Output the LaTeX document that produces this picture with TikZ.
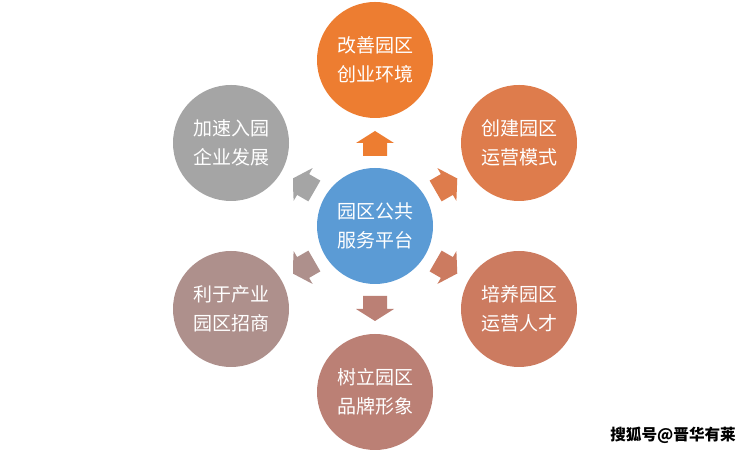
\documentclass[tikz,border=0pt]{standalone}
\usepackage{fontspec}
\setmainfont{Noto Sans CJK SC}
\newfontfamily\markfont[BoldFont={Noto Sans CJK SC Bold}]{Noto Sans CJK SC}
\tikzset{
  x=1pt,y=1pt,
  hub/.style={circle,minimum size=116pt,inner sep=0pt,text=white,align=center,font=\fontsize{19}{29}\selectfont},
  mark text/.style={text=black,inner sep=0pt,font=\fontsize{15.6}{16}\selectfont\bfseries}
}
\definecolor{cblue}{HTML}{5B9BD5}
\definecolor{cA}{HTML}{ED7D31}
\definecolor{cB}{HTML}{DE7C4C}
\definecolor{cC}{HTML}{CC7B60}
\definecolor{cD}{HTML}{BB8075}
\definecolor{cE}{HTML}{AE908C}
\definecolor{cF}{HTML}{A5A5A5}
\newcommand{\blockarr}[2]{%
  \begin{scope}
    \clip (293,0) rectangle (457.3,452);
    \begin{scope}[shift={(centre.center)},rotate=#1]
      \fill[#2] (70,-12) -- (83,-12) -- (83,-19) -- (95,0) -- (83,19) -- (83,12) -- (70,12) -- cycle;
    \end{scope}
  \end{scope}}
\begin{document}
\begin{tikzpicture}
\useasboundingbox (0,0) rectangle (750,452);
\fill[white] (0,0) rectangle (750,452);
\node[hub,fill=cblue] (centre) at (375,226) {园区公共\\服务平台};
\node[hub,fill=cA] (top) at (375,392) {改善园区\\创业环境};
\node[hub,fill=cB] (rt) at (519,309) {创建园区\\运营模式};
\node[hub,fill=cC] (rb) at (519,143) {培养园区\\运营人才};
\node[hub,fill=cD] (bot) at (375,60) {树立园区\\品牌形象};
\node[hub,fill=cE] (lb) at (231,143) {利于产业\\园区招商};
\node[hub,fill=cF] (lt) at (231,309) {加速入园\\企业发展};
\blockarr{90}{cA}
\blockarr{30}{cB}
\blockarr{-30}{cC}
\blockarr{-90}{cD}
\blockarr{-150}{cE}
\blockarr{150}{cF}
\node[mark text,anchor=east] (mark) at (736,17) {搜狐号@晋华有莱};
\end{tikzpicture}
\end{document}
